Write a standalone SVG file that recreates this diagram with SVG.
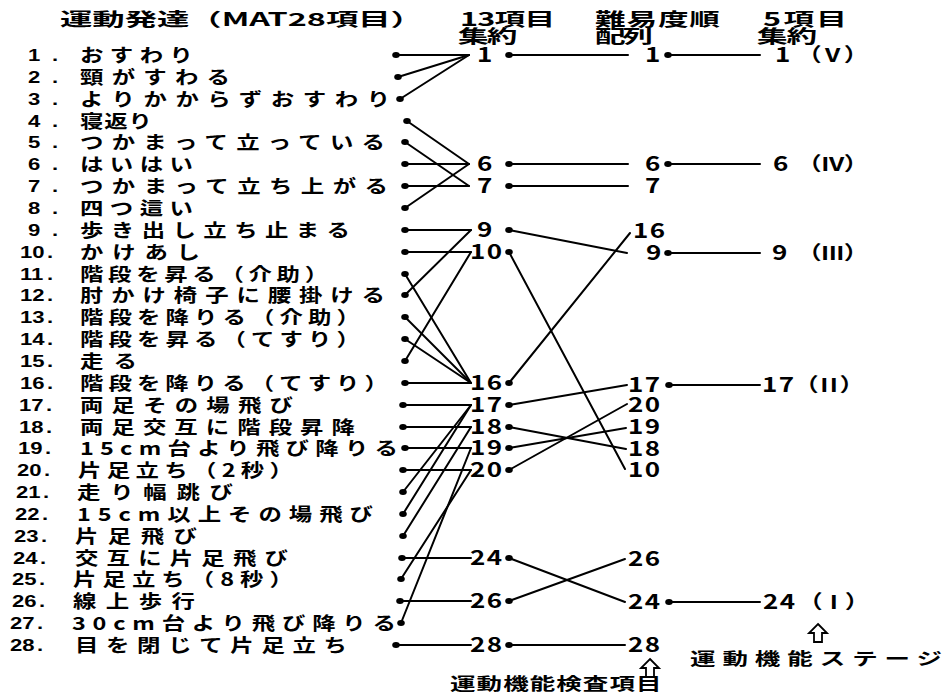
<svg xmlns="http://www.w3.org/2000/svg" width="950" height="694" viewBox="0 0 950 694">
<style>
text{font-family:"Noto Sans CJK JP","Noto Sans CJK SC",sans-serif;font-weight:700;fill:#000}
.b{font-size:18px}
.n{font-family:"Liberation Sans",Arial,sans-serif;font-size:17px}
.h{font-size:18px}
.f{font-size:17px}
.d{font-size:20px;letter-spacing:1px}
.r{font-size:19px}
.c line{stroke:#000;stroke-width:2;stroke-linecap:round}
ellipse{fill:#000}
.ar{fill:none;stroke:#000;stroke-width:1.8;stroke-linejoin:miter}
</style>
<rect width="950" height="694" fill="#fff"/>

<g id="headers">
<text class="h" transform="matrix(1.7 0 0 1 60 26)" textLength="213.5" lengthAdjust="spacingAndGlyphs">運動発達（MAT28項目）</text>
<text class="h" transform="matrix(1.7 0 0 1 460 26)" textLength="55.9" lengthAdjust="spacing">13項目</text>
<text class="h" transform="matrix(1.7 0 0 1 458 43)" textLength="35" lengthAdjust="spacing">集約</text>
<text class="h" transform="matrix(1.7 0 0 1 595 26)" textLength="73.5" lengthAdjust="spacing">難易度順</text>
<text class="h" transform="matrix(1.7 0 0 1 595 43)" textLength="34" lengthAdjust="spacing">配列</text>
<text class="h" transform="matrix(1.7 0 0 1 763 26)" textLength="49.4" lengthAdjust="spacing">5項目</text>
<text class="h" transform="matrix(1.7 0 0 1 757 43)" textLength="35.3" lengthAdjust="spacing">集約</text>
</g>

<g id="items">
<g id="item1"><text class="n" transform="matrix(1.3 0 0 1 0 61)"><tspan x="21.5">1</tspan><tspan x="40">.</tspan></text><text class="b" transform="matrix(1.3 0 0 1 80 61.5)" textLength="86.9" lengthAdjust="spacing">おすわり</text><ellipse cx="396" cy="55" rx="3.8" ry="3"/></g>
<g id="item2"><text class="n" transform="matrix(1.3 0 0 1 0 83)"><tspan x="21.5">2</tspan><tspan x="40">.</tspan></text><text class="b" transform="matrix(1.3 0 0 1 80 83.5)" textLength="115.4" lengthAdjust="spacing">頸がすわる</text><ellipse cx="398" cy="77" rx="3.8" ry="3"/></g>
<g id="item3"><text class="n" transform="matrix(1.3 0 0 1 0 105)"><tspan x="21.5">3</tspan><tspan x="40">.</tspan></text><text class="b" transform="matrix(1.3 0 0 1 80 105.5)" textLength="238.5" lengthAdjust="spacing">よりかからずおすわり</text><ellipse cx="400" cy="99" rx="3.8" ry="3"/></g>
<g id="item4"><text class="n" transform="matrix(1.3 0 0 1 0 127)"><tspan x="21.5">4</tspan><tspan x="40">.</tspan></text><text class="b" transform="matrix(1.3 0 0 1 80 127.5)" textLength="55.4" lengthAdjust="spacing">寝返り</text><ellipse cx="407" cy="121" rx="3.8" ry="3"/></g>
<g id="item5"><text class="n" transform="matrix(1.3 0 0 1 0 148)"><tspan x="21.5">5</tspan><tspan x="40">.</tspan></text><text class="b" transform="matrix(1.3 0 0 1 80 148.5)" textLength="234.6" lengthAdjust="spacing">つかまって立っている</text><ellipse cx="405" cy="142" rx="3.8" ry="3"/></g>
<g id="item6"><text class="n" transform="matrix(1.3 0 0 1 0 170)"><tspan x="21.5">6</tspan><tspan x="40">.</tspan></text><text class="b" transform="matrix(1.3 0 0 1 80 170.5)" textLength="86.9" lengthAdjust="spacing">はいはい</text><ellipse cx="405" cy="164" rx="3.8" ry="3"/></g>
<g id="item7"><text class="n" transform="matrix(1.3 0 0 1 0 192)"><tspan x="21.5">7</tspan><tspan x="40">.</tspan></text><text class="b" transform="matrix(1.3 0 0 1 80 192.5)" textLength="236.9" lengthAdjust="spacing">つかまって立ち上がる</text><ellipse cx="405" cy="186" rx="3.8" ry="3"/></g>
<g id="item8"><text class="n" transform="matrix(1.3 0 0 1 0 214)"><tspan x="21.5">8</tspan><tspan x="40">.</tspan></text><text class="b" transform="matrix(1.3 0 0 1 80 214.5)" textLength="86.9" lengthAdjust="spacing">四つ這い</text><ellipse cx="405" cy="208" rx="3.8" ry="3"/></g>
<g id="item9"><text class="n" transform="matrix(1.3 0 0 1 0 236)"><tspan x="21.5">9</tspan><tspan x="40">.</tspan></text><text class="b" transform="matrix(1.3 0 0 1 80 236.5)" textLength="207.7" lengthAdjust="spacing">歩き出し立ち止まる</text><ellipse cx="405" cy="230" rx="3.8" ry="3"/></g>
<g id="item10"><text class="n" transform="matrix(1.3 0 0 1 0 258)"><tspan x="15.4">10</tspan><tspan x="36.2">.</tspan></text><text class="b" transform="matrix(1.3 0 0 1 80 258.5)" textLength="92.3" lengthAdjust="spacing">かけあし</text><ellipse cx="405" cy="252" rx="3.8" ry="3"/></g>
<g id="item11"><text class="n" transform="matrix(1.3 0 0 1 0 280)"><tspan x="15.4">11</tspan><tspan x="36.2">.</tspan></text><text class="b" transform="matrix(1.3 0 0 1 80 280.5)" textLength="190.8" lengthAdjust="spacing">階段を昇る（介助）</text><ellipse cx="405" cy="274" rx="3.8" ry="3"/></g>
<g id="item12"><text class="n" transform="matrix(1.3 0 0 1 0 301)"><tspan x="15.4">12</tspan><tspan x="36.2">.</tspan></text><text class="b" transform="matrix(1.3 0 0 1 80 301.5)" textLength="234.6" lengthAdjust="spacing">肘かけ椅子に腰掛ける</text><ellipse cx="405" cy="295" rx="3.8" ry="3"/></g>
<g id="item13"><text class="n" transform="matrix(1.3 0 0 1 0 323)"><tspan x="15.4">13</tspan><tspan x="36.2">.</tspan></text><text class="b" transform="matrix(1.3 0 0 1 80 323.5)" textLength="215.4" lengthAdjust="spacing">階段を降りる（介助）</text><ellipse cx="405" cy="317" rx="3.8" ry="3"/></g>
<g id="item14"><text class="n" transform="matrix(1.3 0 0 1 0 345)"><tspan x="15.4">14</tspan><tspan x="36.2">.</tspan></text><text class="b" transform="matrix(1.3 0 0 1 80 345.5)" textLength="215.4" lengthAdjust="spacing">階段を昇る（てすり）</text><ellipse cx="405" cy="339" rx="3.8" ry="3"/></g>
<g id="item15"><text class="n" transform="matrix(1.3 0 0 1 0 367)"><tspan x="15.4">15</tspan><tspan x="36.2">.</tspan></text><text class="b" transform="matrix(1.3 0 0 1 80 367.5)" textLength="43.8" lengthAdjust="spacing">走る</text><ellipse cx="405" cy="361" rx="3.8" ry="3"/></g>
<g id="item16"><text class="n" transform="matrix(1.3 0 0 1 0 389)"><tspan x="15.4">16</tspan><tspan x="36.2">.</tspan></text><text class="b" transform="matrix(1.3 0 0 1 80 389.5)" textLength="236.9" lengthAdjust="spacing">階段を降りる（てすり）</text><ellipse cx="405" cy="383" rx="3.8" ry="3"/></g>
<g id="item17"><text class="n" transform="matrix(1.3 0 0 1 0 411)"><tspan x="14.6">17</tspan><tspan x="35.4">.</tspan></text><text class="b" transform="matrix(1.3 0 0 1 80 411.5)" textLength="163.8" lengthAdjust="spacing">両足その場飛び</text><ellipse cx="403" cy="405" rx="3.8" ry="3"/></g>
<g id="item18"><text class="n" transform="matrix(1.3 0 0 1 0 433)"><tspan x="14.6">18</tspan><tspan x="35.4">.</tspan></text><text class="b" transform="matrix(1.3 0 0 1 80 433.5)" textLength="211.5" lengthAdjust="spacing">両足交互に階段昇降</text><ellipse cx="403" cy="427" rx="3.8" ry="3"/></g>
<g id="item19"><text class="n" transform="matrix(1.3 0 0 1 0 454)"><tspan x="13.8">19</tspan><tspan x="34.6">.</tspan></text><text class="b" transform="matrix(1.3 0 0 1 80 454.5)" textLength="244.6" lengthAdjust="spacing">15cm台より飛び降りる</text><ellipse cx="405" cy="448" rx="3.8" ry="3"/></g>
<g id="item20"><text class="n" transform="matrix(1.3 0 0 1 0 476)"><tspan x="13.1">20</tspan><tspan x="33.8">.</tspan></text><text class="b" transform="matrix(1.3 0 0 1 78 476.5)" textLength="165.4" lengthAdjust="spacing">片足立ち（2秒）</text><ellipse cx="403" cy="470" rx="3.8" ry="3"/></g>
<g id="item21"><text class="n" transform="matrix(1.3 0 0 1 0 498)"><tspan x="12.3">21</tspan><tspan x="33.1">.</tspan></text><text class="b" transform="matrix(1.3 0 0 1 77 498.5)" textLength="120" lengthAdjust="spacing">走り幅跳び</text><ellipse cx="403" cy="492" rx="3.8" ry="3"/></g>
<g id="item22"><text class="n" transform="matrix(1.3 0 0 1 0 520)"><tspan x="11.5">22</tspan><tspan x="32.3">.</tspan></text><text class="b" transform="matrix(1.3 0 0 1 77 520.5)" textLength="227.7" lengthAdjust="spacing">15cm以上その場飛び</text><ellipse cx="403" cy="514" rx="3.8" ry="3"/></g>
<g id="item23"><text class="n" transform="matrix(1.3 0 0 1 0 542)"><tspan x="10.8">23</tspan><tspan x="31.5">.</tspan></text><text class="b" transform="matrix(1.3 0 0 1 75 542.5)" textLength="93.8" lengthAdjust="spacing">片足飛び</text><ellipse cx="403" cy="536" rx="3.8" ry="3"/></g>
<g id="item24"><text class="n" transform="matrix(1.3 0 0 1 0 564)"><tspan x="10">24</tspan><tspan x="30.8">.</tspan></text><text class="b" transform="matrix(1.3 0 0 1 75 564.5)" textLength="163.8" lengthAdjust="spacing">交互に片足飛び</text><ellipse cx="402" cy="558" rx="3.8" ry="3"/></g>
<g id="item25"><text class="n" transform="matrix(1.3 0 0 1 0 585)"><tspan x="9.2">25</tspan><tspan x="30">.</tspan></text><text class="b" transform="matrix(1.3 0 0 1 73 585.5)" textLength="169.2" lengthAdjust="spacing">片足立ち（8秒）</text><ellipse cx="401" cy="579" rx="3.8" ry="3"/></g>
<g id="item26"><text class="n" transform="matrix(1.3 0 0 1 0 607)"><tspan x="9.2">26</tspan><tspan x="30">.</tspan></text><text class="b" transform="matrix(1.3 0 0 1 73 607.5)" textLength="93.8" lengthAdjust="spacing">線上歩行</text><ellipse cx="400" cy="601" rx="3.8" ry="3"/></g>
<g id="item27"><text class="n" transform="matrix(1.3 0 0 1 0 629)"><tspan x="7.7">27</tspan><tspan x="28.5">.</tspan></text><text class="b" transform="matrix(1.3 0 0 1 72 629.5)" textLength="249.2" lengthAdjust="spacing">30cm台より飛び降りる</text><ellipse cx="401" cy="623" rx="3.8" ry="3"/></g>
<g id="item28"><text class="n" transform="matrix(1.3 0 0 1 0 651)"><tspan x="7.7">28</tspan><tspan x="28.5">.</tspan></text><text class="b" transform="matrix(1.3 0 0 1 75 651.5)" textLength="209.2" lengthAdjust="spacing">目を閉じて片足立ち</text><ellipse cx="396" cy="645" rx="3.8" ry="3"/></g>
</g>

<g id="col13">
<g id="c13-1"><text class="d" transform="matrix(1.3 0 0 1 477 62)">1</text><ellipse cx="509" cy="55" rx="3.8" ry="3"/></g>
<g id="c13-6"><text class="d" transform="matrix(1.3 0 0 1 477 171)">6</text><ellipse cx="509" cy="164" rx="3.8" ry="3"/></g>
<g id="c13-7"><text class="d" transform="matrix(1.3 0 0 1 477 193)">7</text><ellipse cx="509" cy="186" rx="3.8" ry="3"/></g>
<g id="c13-9"><text class="d" transform="matrix(1.3 0 0 1 477 237)">9</text><ellipse cx="509" cy="230" rx="3.8" ry="3"/></g>
<g id="c13-10"><text class="d" transform="matrix(1.3 0 0 1 470 259)">10</text><ellipse cx="509" cy="252" rx="3.8" ry="3"/></g>
<g id="c13-16"><text class="d" transform="matrix(1.3 0 0 1 470 390)">16</text><ellipse cx="509" cy="383" rx="3.8" ry="3"/></g>
<g id="c13-17"><text class="d" transform="matrix(1.3 0 0 1 470 412)">17</text><ellipse cx="509" cy="405" rx="3.8" ry="3"/></g>
<g id="c13-18"><text class="d" transform="matrix(1.3 0 0 1 470 434)">18</text><ellipse cx="509" cy="427" rx="3.8" ry="3"/></g>
<g id="c13-19"><text class="d" transform="matrix(1.3 0 0 1 470 455)">19</text><ellipse cx="509" cy="448" rx="3.8" ry="3"/></g>
<g id="c13-20"><text class="d" transform="matrix(1.3 0 0 1 470 477)">20</text><ellipse cx="509" cy="470" rx="3.8" ry="3"/></g>
<g id="c13-24"><text class="d" transform="matrix(1.3 0 0 1 470 565)">24</text><ellipse cx="509" cy="558" rx="3.8" ry="3"/></g>
<g id="c13-26"><text class="d" transform="matrix(1.3 0 0 1 470 608)">26</text><ellipse cx="509" cy="601" rx="3.8" ry="3"/></g>
<g id="c13-28"><text class="d" transform="matrix(1.3 0 0 1 470 652)">28</text><ellipse cx="509" cy="645" rx="3.8" ry="3"/></g>
</g>

<g id="colDiff">
<g id="dif-1"><text class="d" transform="matrix(1.3 0 0 1 645 62)">1</text><ellipse cx="668" cy="55" rx="3.8" ry="3"/></g>
<g id="dif-6"><text class="d" transform="matrix(1.3 0 0 1 645 171)">6</text><ellipse cx="668" cy="164" rx="3.8" ry="3"/></g>
<g id="dif-7"><text class="d" transform="matrix(1.3 0 0 1 645 193)">7</text></g>
<g id="dif-16"><text class="d" transform="matrix(1.3 0 0 1 633 238)">16</text></g>
<g id="dif-9"><text class="d" transform="matrix(1.3 0 0 1 646 260)">9</text><ellipse cx="668" cy="253" rx="3.8" ry="3"/></g>
<g id="dif-17"><text class="d" transform="matrix(1.3 0 0 1 628 392)">17</text><ellipse cx="669" cy="385" rx="3.8" ry="3"/></g>
<g id="dif-20"><text class="d" transform="matrix(1.3 0 0 1 628 412)">20</text></g>
<g id="dif-19"><text class="d" transform="matrix(1.3 0 0 1 628 434)">19</text></g>
<g id="dif-18"><text class="d" transform="matrix(1.3 0 0 1 628 456)">18</text></g>
<g id="dif-10"><text class="d" transform="matrix(1.3 0 0 1 628 477)">10</text></g>
<g id="dif-26"><text class="d" transform="matrix(1.3 0 0 1 628 566)">26</text></g>
<g id="dif-24"><text class="d" transform="matrix(1.3 0 0 1 628 609)">24</text><ellipse cx="669" cy="602" rx="3.8" ry="3"/></g>
<g id="dif-28"><text class="d" transform="matrix(1.3 0 0 1 628 652)">28</text></g>
</g>

<g id="col5">
<g id="st-1"><text class="d" transform="matrix(1.3 0 0 1 775 62)">1</text><text class="r" transform="matrix(1.3 0 0 1 797 62)" textLength="55" lengthAdjust="spacing">（V）</text></g>
<g id="st-6"><text class="d" transform="matrix(1.3 0 0 1 773 171)">6</text><text class="r" transform="matrix(1.3 0 0 1 797 171)" textLength="55" lengthAdjust="spacing">（IV）</text></g>
<g id="st-9"><text class="d" transform="matrix(1.3 0 0 1 772 260)">9</text><text class="r" transform="matrix(1.3 0 0 1 797 260)" textLength="55" lengthAdjust="spacing">（III）</text></g>
<g id="st-17"><text class="d" transform="matrix(1.3 0 0 1 762 392)">17</text><text class="r" transform="matrix(1.3 0 0 1 794 392)" textLength="54" lengthAdjust="spacing">（II）</text></g>
<g id="st-24"><text class="d" transform="matrix(1.3 0 0 1 763 609)">24</text><text class="r" transform="matrix(1.3 0 0 1 798 609)" textLength="55" lengthAdjust="spacing">（ I ）</text></g>
</g>

<g id="footer-stage">
<polygon class="ar" points="818,624 827,633 822,633 822,642 814,642 814,633 809,633"/>
<text class="f" transform="matrix(1.5 0 0 1 690 665)" textLength="168" lengthAdjust="spacing">運動機能ステージ</text>
</g>
<g id="footer-test">
<polygon class="ar" points="650,659 659,668 654,668 654,677 646,677 646,668 641,668"/>
<text class="f" transform="matrix(1.5 0 0 1 450 690)" textLength="141" lengthAdjust="spacing">運動機能検査項目</text>
</g>

<g id="connectors" class="c">
<line x1="396" y1="55" x2="469" y2="55"/>
<line x1="398" y1="77" x2="469" y2="55"/>
<line x1="400" y1="99" x2="469" y2="55"/>
<line x1="407" y1="121" x2="469" y2="164"/>
<line x1="405" y1="164" x2="469" y2="164"/>
<line x1="405" y1="208" x2="469" y2="164"/>
<line x1="405" y1="142" x2="469" y2="186"/>
<line x1="405" y1="186" x2="469" y2="186"/>
<line x1="405" y1="230" x2="471" y2="230"/>
<line x1="405" y1="295" x2="471" y2="230"/>
<line x1="405" y1="252" x2="471" y2="252"/>
<line x1="405" y1="361" x2="471" y2="252"/>
<line x1="405" y1="274" x2="471" y2="383"/>
<line x1="405" y1="317" x2="471" y2="383"/>
<line x1="405" y1="339" x2="471" y2="383"/>
<line x1="405" y1="383" x2="471" y2="383"/>
<line x1="403" y1="405" x2="471" y2="405"/>
<line x1="403" y1="492" x2="471" y2="405"/>
<line x1="403" y1="514" x2="471" y2="405"/>
<line x1="403" y1="427" x2="471" y2="427"/>
<line x1="403" y1="536" x2="471" y2="427"/>
<line x1="405" y1="448" x2="471" y2="448"/>
<line x1="401" y1="623" x2="471" y2="448"/>
<line x1="403" y1="470" x2="471" y2="470"/>
<line x1="401" y1="579" x2="471" y2="470"/>
<line x1="402" y1="558" x2="471" y2="558"/>
<line x1="400" y1="601" x2="471" y2="601"/>
<line x1="396" y1="645" x2="471" y2="645"/>
<line x1="509" y1="55" x2="628" y2="55"/>
<line x1="509" y1="164" x2="628" y2="164"/>
<line x1="509" y1="186" x2="628" y2="186"/>
<line x1="509" y1="230" x2="627" y2="253"/>
<line x1="509" y1="252" x2="625" y2="469"/>
<line x1="509" y1="383" x2="630" y2="233"/>
<line x1="509" y1="405" x2="627" y2="385"/>
<line x1="509" y1="427" x2="626" y2="449"/>
<line x1="509" y1="448" x2="626" y2="428"/>
<line x1="509" y1="470" x2="627" y2="404"/>
<line x1="509" y1="558" x2="625" y2="602"/>
<line x1="509" y1="601" x2="625" y2="559"/>
<line x1="509" y1="645" x2="625" y2="645"/>
<line x1="668" y1="55" x2="760" y2="55"/>
<line x1="668" y1="164" x2="760" y2="164"/>
<line x1="668" y1="253" x2="760" y2="253"/>
<line x1="669" y1="385" x2="760" y2="385"/>
<line x1="669" y1="602" x2="760" y2="602"/>
</g>
</svg>
